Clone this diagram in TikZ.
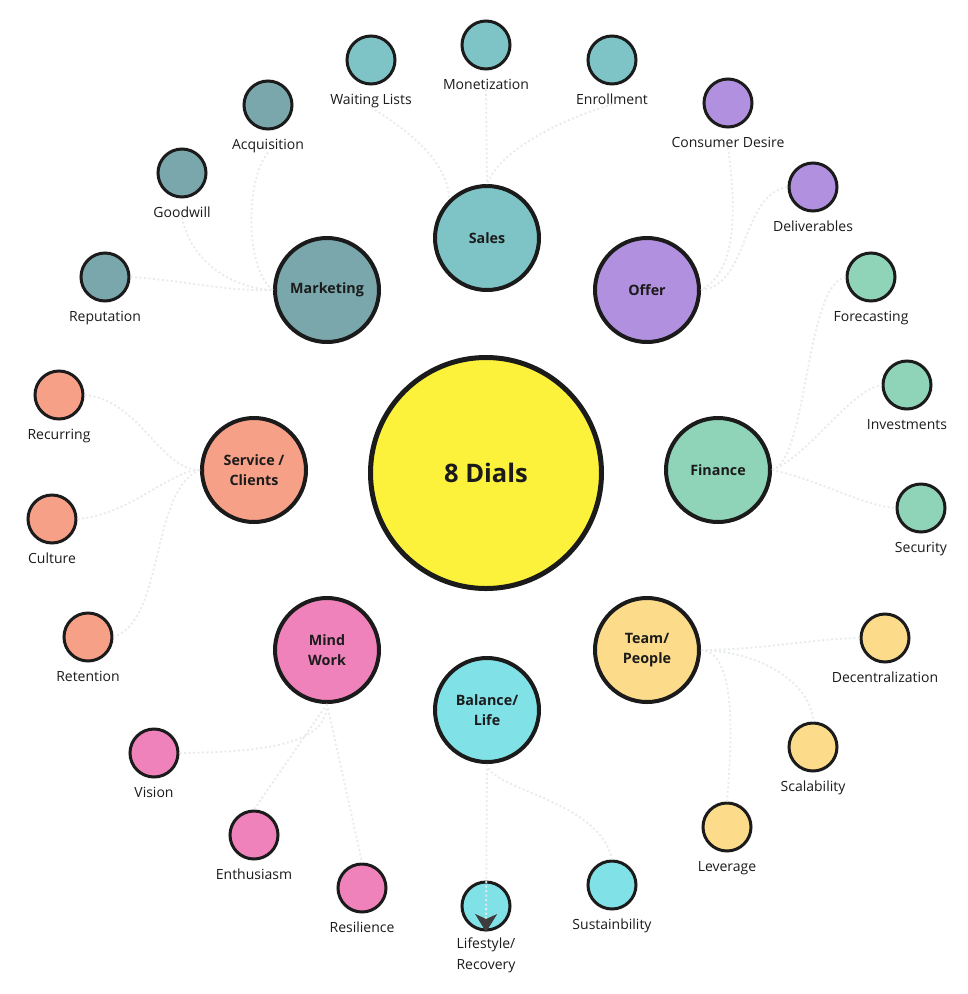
\documentclass[tikz,border=0pt]{standalone}
\usepackage{fontspec}
\setmainfont{Open Sans}
\usetikzlibrary{arrows.meta}
\definecolor{ink}{HTML}{1B1B1B}
\definecolor{cYel}{HTML}{FDF23B}
\definecolor{cSales}{HTML}{7EC4C6}
\definecolor{cMkt}{HTML}{79A7AC}
\definecolor{cOffer}{HTML}{B290E0}
\definecolor{cFin}{HTML}{8FD3B9}
\definecolor{cTeam}{HTML}{FCDC8B}
\definecolor{cBal}{HTML}{80E1E7}
\definecolor{cMind}{HTML}{EF82BA}
\definecolor{cServ}{HTML}{F7A088}
\definecolor{linkc}{HTML}{E8EBEB}
\tikzset{
  hub/.style={circle, draw=ink, line width=4pt, minimum size=104pt, inner sep=0pt,
    font=\bfseries\fontsize{14.3}{20}\selectfont, align=center, text=ink},
  leafc/.style={circle, draw=ink, line width=3pt, minimum size=48pt, inner sep=0pt},
  lbl/.style={font=\fontsize{14}{21}\selectfont, text=ink, anchor=base, inner sep=0pt, align=center},
  link/.style={draw=linkc, line width=1.8pt, dash pattern=on 2pt off 2.5pt},
}
\newcommand\leafnode[5]{%
  \node[leafc, fill=#4] (#1) at (#2,#3) {};
  \node[lbl] (#1-t) at (#2,#3+44) {#5};
}
\begin{document}
\begin{tikzpicture}[x=1pt,y=-1pt]
\useasboundingbox[fill=white] (0,0) rectangle (968,994);

% centre and hubs
\node[circle, draw=ink, line width=5pt, minimum size=231pt, inner sep=0pt, fill=cYel,
  font=\bfseries\fontsize{25.5}{30}\selectfont, text=ink] (dials) at (486,473) {8 Dials};
\node[hub, fill=cSales] (sales) at (487,238) {Sales};
\node[hub, fill=cMkt] (mkt) at (327,290) {Marketing};
\node[hub, fill=cOffer] (offer) at (647,290) {Offer};
\node[hub, fill=cServ] (serv) at (254,470) {Service /\\Clients};
\node[hub, fill=cFin] (fin) at (718,470) {Finance};
\node[hub, fill=cMind] (mind) at (327,650) {Mind\\Work};
\node[hub, fill=cTeam] (team) at (647,650) {Team/\\People};
\node[hub, fill=cBal] (bal) at (487,710) {Balance/\\Life};

% leaves
\leafnode{mon}{486}{45}{cSales}{Monetization}
\leafnode{wait}{371}{60}{cSales}{Waiting Lists}
\leafnode{enr}{612}{60}{cSales}{Enrollment}
\leafnode{acq}{268}{105}{cMkt}{Acquisition}
\leafnode{good}{182}{173}{cMkt}{Goodwill}
\leafnode{rep}{105}{277}{cMkt}{Reputation}
\leafnode{cons}{728}{103}{cOffer}{Consumer Desire}
\leafnode{deliv}{813}{187}{cOffer}{Deliverables}
\leafnode{fore}{871}{277}{cFin}{Forecasting}
\leafnode{inv}{907}{385}{cFin}{Investments}
\leafnode{sec}{921}{508}{cFin}{Security}
\leafnode{dec}{885}{638}{cTeam}{Decentralization}
\leafnode{scal}{813}{747}{cTeam}{Scalability}
\leafnode{lev}{727}{827}{cTeam}{Leverage}
\leafnode{sust}{612}{885}{cBal}{Sustainbility}
\node[leafc, fill=cBal] (life) at (486,906) {};
\node[lbl] (life-t) at (486,969) {Lifestyle/\\Recovery};
\leafnode{res}{362}{888}{cMind}{Resilience}
\leafnode{enth}{254}{835}{cMind}{Enthusiasm}
\leafnode{vis}{154}{753}{cMind}{Vision}
\leafnode{ret}{88}{637}{cServ}{Retention}
\leafnode{cul}{52}{519}{cServ}{Culture}
\leafnode{rec}{59}{395}{cServ}{Recurring}

% connectors
\draw[link] (mon-t.south) -- (sales.north);
\draw[link] (wait-t.south) .. controls (400,125) and (450,160) .. (sales.north west);
\draw[link] (enr-t.south) .. controls (560,120) and (500,150) .. (sales.north);
\draw[link] (rep.east) .. controls (180,280) and (230,292) .. (mkt.west);
\draw[link] (acq-t.south) .. controls (245,180) and (245,270) .. (mkt.west);
\draw[link] (good-t.south) .. controls (190,260) and (230,288) .. (mkt.west);
\draw[link] (cons-t.south) .. controls (735,200) and (740,270) .. (offer.east);
\draw[link] (offer.east) .. controls (750,285) and (740,195) .. (deliv.west);
\draw[link] (fin.east) .. controls (808,460) and (805,285) .. (fore.west);
\draw[link] (fin.east) .. controls (810,455) and (850,390) .. (inv.west);
\draw[link] (fin.east) .. controls (820,480) and (860,505) .. (sec.west);
\draw[link] (team.east) .. controls (760,650) and (820,638) .. (dec.west);
\draw[link] (team.east) .. controls (770,652) and (813,690) .. (scal.north);
\draw[link] (team.east) .. controls (735,652) and (733,730) .. (lev.north);
\draw[link] (bal.south) .. controls (490,790) and (600,800) .. (sust.north);
\draw[link] (vis.east) .. controls (280,752) and (327,740) .. (mind.south);
\draw[link] (mind.south) -- (enth.north);
\draw[link] (mind.south) -- (res.north);
\draw[link] (rec.east) .. controls (140,400) and (160,470) .. (serv.west);
\draw[link] (cul.east) .. controls (130,515) and (170,470) .. (serv.west);
\draw[link] (serv.west) .. controls (150,490) and (165,620) .. (ret.east);
\coordinate (lifetip) at (486,932);
\draw[link, -{Stealth[length=18pt,width=22pt,inset=5pt,color=ink!85]}] (bal.south) -- (lifetip);
\end{tikzpicture}
\end{document}
